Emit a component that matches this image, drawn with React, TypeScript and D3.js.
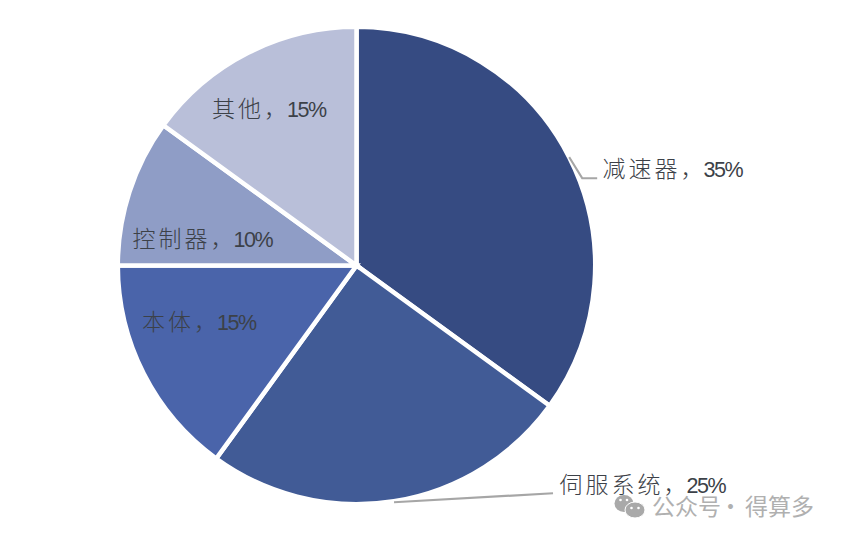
import { useEffect, useRef } from "react";
import * as d3 from "d3";

const categories = ["减速器", "伺服系统", "本体", "控制器", "其他"];
const shares = [35, 25, 15, 10, 15];
const colors = ["#364b82", "#415b96", "#4a64aa", "#8f9dc6", "#b9bfd9"];

const width = 843;
const height = 540;
const cx = 356.5;
const cy = 265.5;
const radius = 238.7;

// label anchor (left edge of text, baseline) relative to the chart centre
const labelOffsets = [
  [246, -89],
  [203, 227],
  [-214.5, 64],
  [-224, -19],
  [-144.5, -149],
];

const cjkFont = "'Noto Sans CJK SC', 'DejaVu Sans', sans-serif";
const latinFont = "'Liberation Sans', Arial, sans-serif";

export default function App() {
  const ref = useRef<SVGSVGElement>(null);

  useEffect(() => {
    if (!ref.current) return;
    const svg = d3.select(ref.current);
    svg.selectAll("*").remove();

    svg.append("rect").attr("width", width).attr("height", height).attr("fill", "#ffffff");

    const g = svg.append("g").attr("transform", `translate(${cx}, ${cy})`);

    const pie = d3.pie<number>().sort(null).value(d => d);
    const arcs = pie(shares);
    const arc = d3.arc<d3.PieArcDatum<number>>().innerRadius(0).outerRadius(radius);

    g.selectAll(".slice")
      .data(arcs)
      .enter()
      .append("path")
      .attr("class", "slice")
      .attr("d", arc)
      .attr("fill", (d, i) => colors[i])
      .attr("stroke", "#ffffff")
      .attr("stroke-width", 4.5)
      .attr("stroke-linejoin", "miter");

    const labels = g.selectAll(".label")
      .data(arcs)
      .enter()
      .append("text")
      .attr("class", "label")
      .attr("x", (d, i) => labelOffsets[i][0])
      .attr("y", (d, i) => labelOffsets[i][1])
      .attr("fill", "#3c4148");

    labels.append("tspan")
      .style("font-family", cjkFont)
      .style("font-size", "23px")
      .style("font-weight", 300)
      .style("letter-spacing", "3px")
      .text((d, i) => `${categories[i]}，`);

    labels.append("tspan")
      .attr("dx", -3)
      .style("font-family", latinFont)
      .style("font-size", "21.5px")
      .style("letter-spacing", "-1.4px")
      .text((d, i) => `${shares[i]}%`);

    // Leader lines for the two outside labels
    const leader = d3.line<[number, number]>();
    const rimPoint = (a: number, r: number): [number, number] => [r * Math.sin(a), -r * Math.cos(a)];
    const midA = (arcs[0].startAngle + arcs[0].endAngle) / 2;
    const midB = (arcs[1].startAngle + arcs[1].endAngle) / 2;
    const startA = rimPoint(midA, radius);
    const startB = rimPoint(midB, radius + 1);

    g.append("path")
      .attr("d", leader([startA, [startA[0] + 13, startA[1] + 21], [startA[0] + 28, startA[1] + 21]]))
      .attr("fill", "none")
      .attr("stroke", "#a6a6a6")
      .attr("stroke-width", 2);

    g.append("path")
      .attr("d", leader([startB, [startB[0] + 159, startB[1] - 9]]))
      .attr("fill", "none")
      .attr("stroke", "#a6a6a6")
      .attr("stroke-width", 2.2);

    // Watermark
    const mark = svg.append("g");
    mark.append("ellipse").attr("cx", 624).attr("cy", 503.5).attr("rx", 9.5).attr("ry", 8.5).attr("fill", "#a9a9a9");
    mark.append("ellipse").attr("cx", 635).attr("cy", 510).attr("rx", 10).attr("ry", 8)
      .attr("fill", "#a9a9a9").attr("stroke", "#ffffff").attr("stroke-width", 1);
    [[620.5, 500], [627, 500], [631.5, 508], [638.5, 508]].forEach(([x, y]) => {
      mark.append("circle").attr("cx", x).attr("cy", y).attr("r", 1.3).attr("fill", "#ffffff");
    });

    const markText = mark.append("text")
      .attr("y", 514.5)
      .attr("fill", "#b0b0b0")
      .style("font-family", cjkFont)
      .style("font-size", "23px");
    markText.append("tspan").attr("x", 652).text("公众号");
    markText.append("tspan").attr("x", 719).text("·");
    markText.append("tspan").attr("x", 745).text("得算多");
  }, []);

  return (
    <svg
      ref={ref}
      width={width}
      height={height}
      viewBox={`0 0 ${width} ${height}`}
      style={{ position: "absolute", left: 0, top: 0 }}
    />
  );
}
